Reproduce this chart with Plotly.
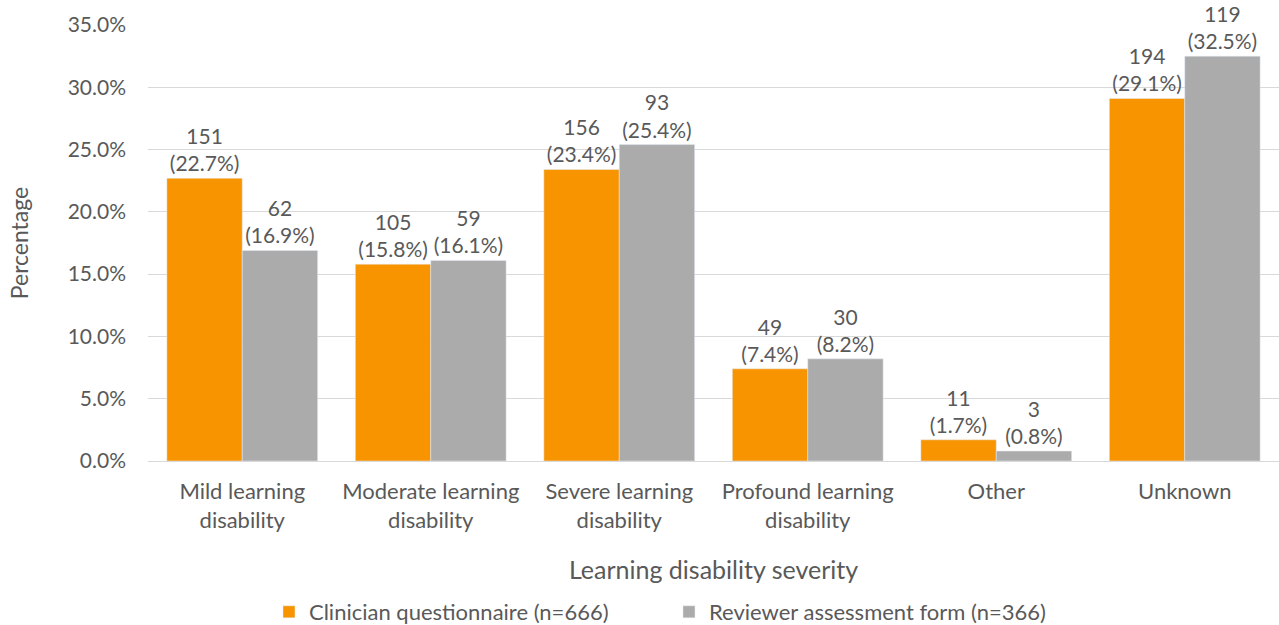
import plotly.graph_objects as go

categories = ["Mild learning<br>disability", "Moderate learning<br>disability", "Severe learning<br>disability",
              "Profound learning<br>disability", "Other", "Unknown"]
clin_n = [151, 105, 156, 49, 11, 194]
clin_pct = [22.7, 15.8, 23.4, 7.4, 1.7, 29.1]
rev_n = [62, 59, 93, 30, 3, 119]
rev_pct = [16.9, 16.1, 25.4, 8.2, 0.8, 32.5]
yticks = [0, 5, 10, 15, 20, 25, 30, 35]

FONT = "Lato, Open Sans, sans-serif"
TXT = "#595959"

fig = go.Figure()
fig.add_bar(x=categories, y=clin_pct, name="Clinician questionnaire (n=666)",
            marker_color="#F79400",
            text=[f"{n}<br>({p:.1f}%)" for n, p in zip(clin_n, clin_pct)],
            textposition="outside", textfont=dict(size=21, color=TXT, family=FONT),
            cliponaxis=False)
fig.add_bar(x=categories, y=rev_pct, name="Reviewer assessment form (n=366)",
            marker_color="#ABABAB",
            text=[f"{n}<br>({p:.1f}%)" for n, p in zip(rev_n, rev_pct)],
            textposition="outside", textfont=dict(size=21, color=TXT, family=FONT),
            cliponaxis=False)

fig.update_layout(
    width=1279, height=625,
    margin=dict(l=148, r=0, t=25, b=164, autoexpand=False),
    plot_bgcolor="white", paper_bgcolor="white",
    barmode="group", bargap=0.2, bargroupgap=0,
    font=dict(family=FONT, color=TXT),
    xaxis=dict(tickfont=dict(size=22, color=TXT), showgrid=False, automargin=False,
               title=dict(text="Learning disability severity", font=dict(size=25, color=TXT), standoff=29),
               showline=False, ticks="", ticklabelstandoff=15),
    yaxis=dict(range=[0, 35], tickvals=yticks, ticktext=[f"{v:.1f}%" for v in yticks],
               tickfont=dict(size=21, color=TXT), gridcolor="#D9D9D9", gridwidth=1,
               zeroline=True, zerolinecolor="#D9D9D9", zerolinewidth=1, automargin=False,
               title=dict(text="Percentage", font=dict(size=23, color=TXT), standoff=32),
               ticklabelstandoff=21),
    legend=dict(orientation="h", xref="container", yref="container", x=0.2103, y=0.0208,
                xanchor="left", yanchor="middle", font=dict(size=22, color=TXT),
                entrywidth=355, itemwidth=30),
    uniformtext=dict(mode=False),
)
fig.write_html("out.html", config={"displayModeBar": False},
               post_script="document.body.style.margin='0';")
